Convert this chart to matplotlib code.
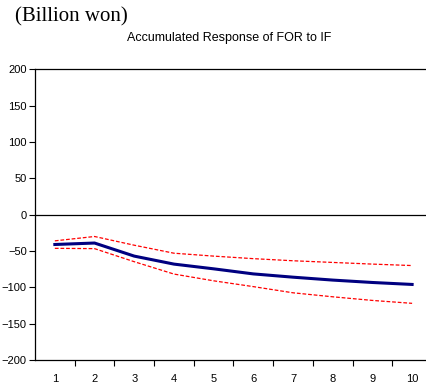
import matplotlib
matplotlib.use("Agg")
import matplotlib.pyplot as plt
import numpy as np

periods = [1, 2, 3, 4, 5, 6, 7, 8, 9, 10]
response = [-41, -39, -57, -68, -74.5, -81.5, -86, -90, -93.3, -96]
upper = [-36, -30, -42, -53, -57, -60.5, -63.4, -65.7, -68, -70]
lower = [-46.3, -46.7, -64.7, -81.7, -91, -99, -107.5, -113, -118, -122]
yticks = [200, 150, 100, 50, 0, -50, -100, -150, -200]

fig = plt.figure(figsize=(4.26, 3.85), dpi=100)
ax = fig.add_axes([35 / 426, 25 / 385, 1 - 35 / 426, 290.6 / 385])

ax.plot(periods, upper, color="red", lw=0.9, ls=(0, (3, 1.5)))
ax.plot(periods, lower, color="red", lw=0.9, ls=(0, (3, 1.5)))
ax.plot(periods, response, color="#000080", lw=2.2)
ax.axhline(0, color="black", lw=0.9)

ax.set_xlim(0.5, 10.35)
ax.set_ylim(-200, 200)
ax.set_yticks(yticks)
ax.set_xticks(periods)
ax.set_xticks(np.arange(1.5, 10.5, 1), minor=True)

ax.spines["right"].set_visible(False)
for s in ["left", "top", "bottom"]:
    ax.spines[s].set_linewidth(0.9)

ax.tick_params(axis="x", which="major", length=0, pad=10, labelsize=8)
ax.tick_params(axis="x", which="minor", length=4, width=0.8, direction="out")
ax.tick_params(axis="y", length=4, width=0.8, labelsize=8, pad=2)
for lbl in ax.get_xticklabels() + ax.get_yticklabels():
    lbl.set_family(["Liberation Sans"])

fig.text(15 / 426, 1 - 17 / 385, "(Billion won)", family="Liberation Serif",
         fontsize=15, va="center", ha="left")
fig.text(229 / 426, 1 - 38 / 385, "Accumulated Response of FOR to IF",
         family="Liberation Sans", fontsize=9, va="center", ha="center")

fig.savefig("out.png", dpi=100)
